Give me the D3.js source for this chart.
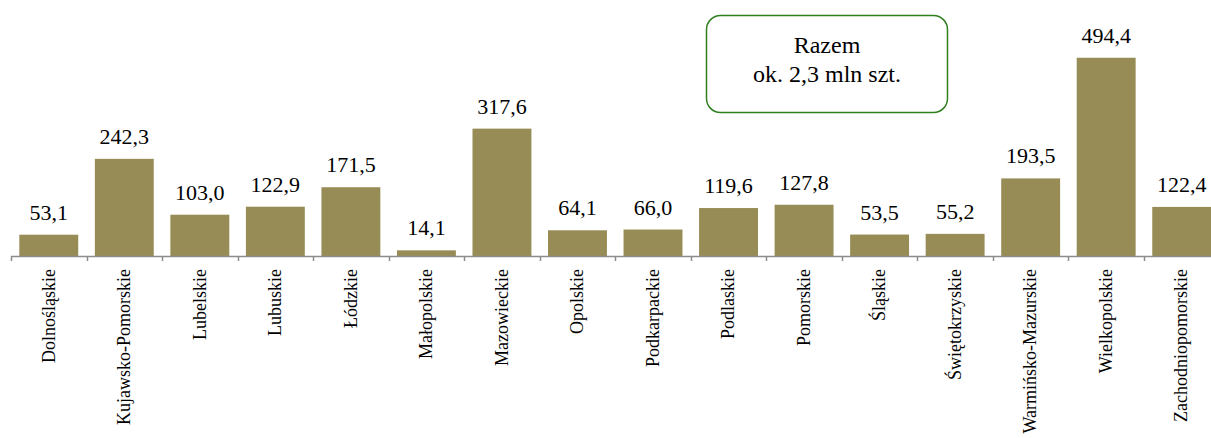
<!DOCTYPE html>
<html>
<head>
<meta charset="utf-8">
<script src="https://cdn.jsdelivr.net/npm/d3@7"></script>
<style>
html,body{margin:0;padding:0;background:#fff;}
svg{display:block;}
text{font-family:"Liberation Serif","Times New Roman",serif;fill:#000;}
</style>
</head>
<body>
<svg id="chart" width="1211" height="438"></svg>
<script>
const categories = ["Dolnośląskie","Kujawsko-Pomorskie","Lubelskie","Lubuskie","Łódzkie","Małopolskie","Mazowieckie","Opolskie","Podkarpackie","Podlaskie","Pomorskie","Śląskie","Świętokrzyskie","Warmińsko-Mazurskie","Wielkopolskie","Zachodniopomorskie"];
const values = [53.1,242.3,103.0,122.9,171.5,14.1,317.6,64.1,66.0,119.6,127.8,53.5,55.2,193.5,494.4,122.4];
const boxLines = ["Razem","ok. 2,3 mln szt."];

const svg = d3.select("#chart");
const x0 = 11, x1 = 11 + 16 * 75.53;
const base = 256;

const x = d3.scaleBand().domain(categories).range([x0, x1]).paddingInner(0.22).paddingOuter(0.11);
const xb = d3.scaleBand().domain(categories).range([x0, x1]).padding(0);
const y = d3.scaleLinear().domain([0, 500]).range([base, 55.5]);
const fmt = v => d3.format(".1f")(v).replace(".", ",");

// bars
svg.append("g").selectAll("rect").data(values).join("rect")
  .attr("x", (d,i) => x(categories[i]))
  .attr("width", x.bandwidth())
  .attr("y", d => y(d))
  .attr("height", d => y(0) - y(d))
  .attr("fill", "#978C55");

// axis
const ax = svg.append("g");
ax.append("line").attr("x1", x0).attr("x2", 1211).attr("y1", base + 0.5).attr("y2", base + 0.5)
  .attr("stroke", "#8c8c8c").attr("stroke-width", 1.5);
ax.selectAll("line.t").data(categories).join("line").attr("class","t")
  .attr("x1", d => Math.round(xb(d)) + 0.5).attr("x2", d => Math.round(xb(d)) + 0.5)
  .attr("y1", base).attr("y2", base + 5)
  .attr("stroke", "#8c8c8c").attr("stroke-width", 1.5);

// value labels
svg.append("g").selectAll("text").data(values).join("text")
  .attr("x", (d,i) => Math.min(x(categories[i]) + x.bandwidth()/2, 1184))
  .attr("y", d => y(d) - 15)
  .attr("text-anchor", "middle")
  .attr("font-size", 22)
  .text(d => fmt(d));

// category labels
svg.append("g").selectAll("text").data(categories).join("text")
  .attr("transform", d => `translate(${xb(d) + xb.bandwidth()/2},269) rotate(-90)`)
  .attr("text-anchor", "end")
  .attr("dy", "0.32em")
  .attr("font-size", 18)
  .text(d => d);

// box
svg.append("rect").attr("x", 706.5).attr("y", 15.5).attr("width", 241).attr("height", 97)
  .attr("rx", 14).attr("ry", 14).attr("fill", "#fff").attr("stroke", "#2f7f1f").attr("stroke-width", 1.5);
svg.append("g").selectAll("text").data(boxLines).join("text")
  .attr("x", 827).attr("y", (d,i) => 53 + i * 29)
  .attr("text-anchor", "middle").attr("font-size", 24)
  .text(d => d);
</script>
</body>
</html>
